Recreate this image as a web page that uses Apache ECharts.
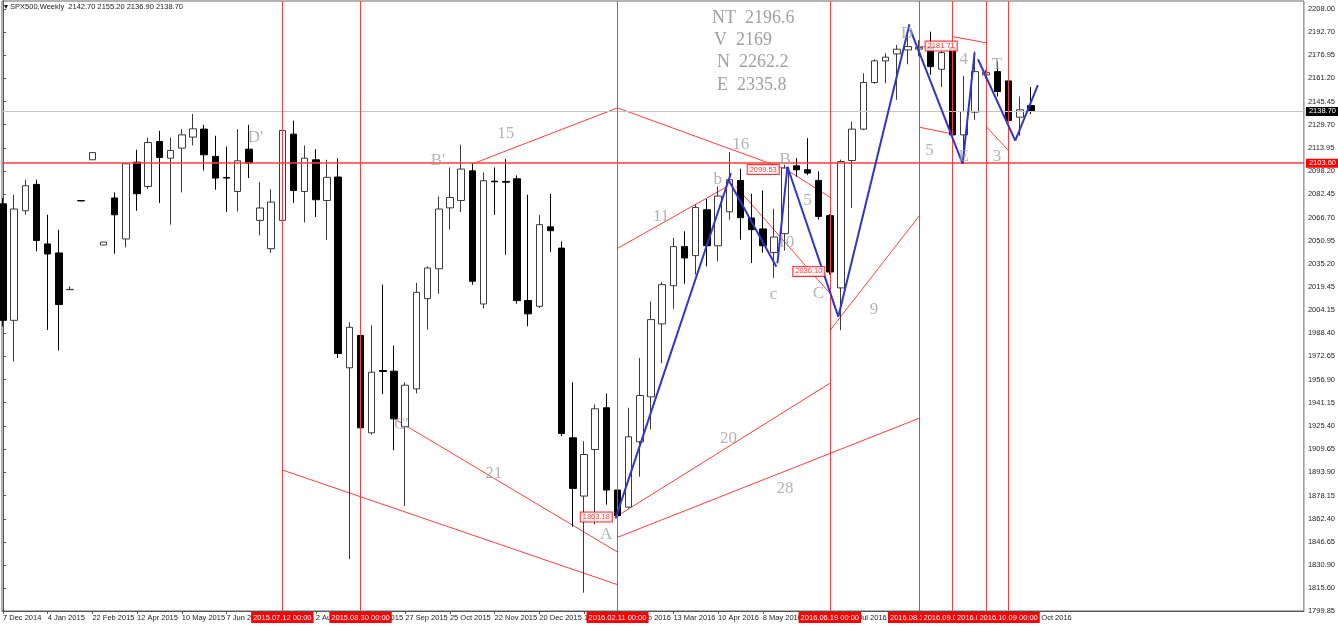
<!DOCTYPE html>
<html><head><meta charset="utf-8">
<script src="https://cdn.jsdelivr.net/npm/echarts@6/dist/echarts.min.js"></script>
<style>html,body{margin:0;padding:0;background:#fff}#c{width:1338px;height:627px}</style>
</head><body><div id="c"></div>
<script>
// ---- weekly bars (index 0 = 7 Dec 2014) ----
const opens  = [2076,1997,2071.3,2089.2,2048.8,2042.7,2017.8,2078.2,2105.9,2048.1,2080,2052.2,2104.3,2087.8,2118.3,2107,2113.8,2121.3,2126.7,2108.2,2093.9,2084.4,2113.1,2064.8,2045.6,2064.8,2123.3,2084.4,2105.9,2078.3,2094.2,1964.8,1986.7,1920.7,1963.0,1962.5,1924.8,1950.5,2011.7,2032,2073.3,2078.3,2098.4,2008.1,2091.4,2091.2,2093,2010.4,2006.5,2060.4,2046,1917.3,1877.8,1909.4,1937.7,1881.9,1870.3,1914.6,1945.1,1994.6,2020.5,2047,2040.9,2072,2047.6,2070.6,2091.9,2066.4,2059,2043,2055.8,2101.8,2099.1,2091.9,2068,2019,2105.4,2126.7,2158.3,2173,2177.7,2180.4,2181,2182.7,2167.3,2182,2122.8,2138.2,2163.5,2165.7,2159.4,2134.8,2142.7];
const highs  = [2080,2082.2,2092.4,2092.4,2068.6,2058.4,2020.1,2078.5,2110.8,2050.1,2083.8,2103.8,2112.7,2121,2125.5,2121,2126.7,2137,2129.6,2122.2,2114.9,2126.7,2129.6,2090.8,2086,2128,2132.5,2115.6,2113.1,2105.9,2107,1995.7,1990.5,1993.6,2021.2,1979.9,1955,2022.4,2033.6,2081,2100.7,2116.1,2103.7,2097.3,2100.7,2106.4,2095.3,2082.2,2068.6,2082.7,2050.5,1955,1915,1939.9,1947.4,1883,1937.7,1971.5,2009.9,2023,2052.9,2057.4,2075.4,2079.3,2087.8,2111.1,2099.8,2082.9,2085.1,2072.7,2102.5,2107,2120.6,2098,2069,2106,2131.8,2164.6,2174.1,2178.2,2183.8,2194,2187,2192.8,2182.7,2182.7,2162.8,2179.3,2167,2172.5,2160.5,2148.8,2155.2];
const lows   = [1993,1969,2068.6,2043.8,1990.5,1976.5,2017.6,2077.8,2105.9,2048.1,2042.2,2046.5,2071.3,2086,2076.6,2061.9,2083.8,2115.6,2098.7,2085.6,2070.5,2070.9,2093.5,2054.6,2042.7,2062,2076.6,2063.4,2067,2051.7,1971.5,1835,1921,1919.5,1947,1908.9,1871,1947.4,1990.7,2015,2058.5,2070.5,2021.2,2005,2068.6,2041.5,2008.3,1993,2005.4,2043.4,1918.4,1857,1812.3,1858.6,1872,1863.2,1869.4,1890.9,1923,1968,2004.8,2021.9,2028,2033.6,2037,2065.3,2051.7,2035.9,2043,2025.8,2044.3,2094.5,2095.5,2065.3,2028,1990.3,2073.2,2126,2157.4,2157.9,2146.6,2170.7,2176,2163.5,2155.2,2122,2104,2133,2161,2148.8,2131,2122.2,2136.9];
const closes = [1997,2072.5,2088.3,2051.2,2042,2007.7,2018.0,2078.0,2110.8,2050.1,2068.6,2103.2,2082.9,2117.6,2107.5,2112.2,2122.8,2126.9,2109.3,2093.5,2093.5,2105.2,2103.7,2073.2,2077.2,2125.8,2085.1,2107,2078.8,2094,1974.5,1992.3,1924.1,1961.8,1962.3,1930.2,1953,2016,2032.5,2072.5,2080.3,2099.6,2023.5,2091.7,2091,2090.7,2010.4,2001.4,2061.9,2057.8,1920.3,1883,1906,1937,1881.9,1864.5,1918,1946,1997.5,2021.2,2047,2039.3,2073.6,2047.6,2081.3,2092.4,2066.6,2058.5,2047.6,2053.5,2100.3,2099.1,2096.9,2067.5,2029.8,2104.7,2126.7,2158.3,2173,2175.5,2180.9,2182.7,2182.2,2169.1,2178.6,2122.8,2138.6,2165.7,2165,2152.2,2132.5,2139.8,2138.7];

// ---- axis labels ----
const xTickLabels = ['7 Dec 2014','4 Jan 2015','22 Feb 2015','12 Apr 2015','10 May 2015','7 Jun 2015','5 Jul 2015','2 Aug 2015','30 Aug 2015','27 Sep 2015','25 Oct 2015','22 Nov 2015','20 Dec 2015','17 Jan 2016','14 Feb 2016','13 Mar 2016','10 Apr 2016','8 May 2016','5 Jun 2016','3 Jul 2016','31 Jul 2016','28 Aug 2016','25 Sep 2016','23 Oct 2016'];
const yTickLabels = ['1799.85','1815.60','1830.90','1846.65','1862.40','1878.15','1893.90','1909.65','1925.40','1941.15','1956.90','1972.65','1988.40','2004.15','2019.45','2035.20','2050.95','2066.70','2082.45','2098.20','2113.95','2129.70','2145.45','2161.20','2176.95','2192.70','2208.00'];

// ---- objects ----
const vLineBars  = [25,32,55,74,82,85,88,90];
const vLineTexts = ['2015.07.12 00:00','2015.08.30 00:00','2016.02.11 00:00','2016.06.19 00:00','2016.08.14 00:00','2016.09.04 00:00','2016.09.25 00:00','2016.10.09 00:00'];
const levelRed = 2103.60;
const levelBid = 2138.70;

// red trend lines: [bar1, price1, bar2, price2]
const redSegments = [
  [25,1895.5,55,1817.7],
  [35.09,1929.9,55.03,1839.7],
  [41.94,2102.9,55,2141.1],
  [55,2141.1,70.06,2099.53],
  [70.06,2099.53,74,2080.5],
  [55.03,2045.9,64.94,2088.3],
  [65.6,2087.7,74,2015.4],
  [55,1864.4,74,1954.3],
  [55,1849.8,82,1930.6],
  [74,1990,82,2067.8],
  [82,2128,85,2123.4],
  [82,2182.5,83.2,2182.5],
  [85,2189.4,88,2185.3],
  [88,2128.4,90,2112.1]
];
// blue wave lines
const blueSegments = [
  [54.82,1862.7,65.15,2096.8],
  [64.94,2092.2,69.22,2033.4],
  [69.31,2035.7,70.21,2101.2],
  [70.21,2101.2,74.76,1999.5],
  [74.76,1999.5,81.13,2197.8],
  [81.22,2194,85.89,2103.1],
  [85.89,2103.1,86.96,2178.6],
  [87.26,2174.1,90.6,2118.9],
  [90.6,2118.9,92.62,2156.6]
];
// wave annotations
const annoBar   = [22.59,38.93,35.63,45,43.93,53.99,58.9,66.04,63.96,70,72,70.06,68.96,72.97,64.94,70,77.95,80.92,85.98,88.96,82.92,85.98,88.96];
const annoPrice = [2120.7,2105.1,1926,2123.4,1892.8,1851.4,2067.3,2116,2092.2,2105.8,2078.6,2049.7,2014.2,2015.4,1917,1883.1,2004,2191.7,2173.6,2170.2,2112.1,2107.8,2108];
const annoText  = ["D'","B'","C'",'15','21','A','11','16','b','B','5','10','c','C','20','28','9','D','4','T','5','E','3'];
// price boxes
const boxBar   = [53.1,68.04,72.12,83.97];
const boxPrice = [1863.6,2099.3,2030.2,2183.0];
const boxText  = ['1863.18','2099.53','2030.10','2181.71'];
// projection texts
const projTexts = ['NT  2196.6','V  2169','N  2262.2','E  2335.8'];

const RED = '#ff3c3c', BLUE = '#3434c4', GRAY = '#a0a0a0';
const SERIF = '"Liberation Serif","DejaVu Serif",serif';
const SANS = '"Liberation Sans",Arial,sans-serif';

const chart = echarts.init(document.getElementById('c'));
const candleData = opens.map((o,i)=>[i,o,closes[i],lows[i],highs[i]]);
const xTickPos = xTickLabels.map((_,k)=>k*4);
const yTickPos = yTickLabels.map(Number);

const series = [];
redSegments.forEach(s=>series.push({type:'line',data:[[s[0],s[1]],[s[2],s[3]]],symbol:'none',silent:true,z:3,animation:false,
  lineStyle:{color:RED,width:1}}));
series.push({type:'candlestick',data:candleData,encode:{x:0,y:[1,2,3,4]},barWidth:7,clip:false,z:4,animation:false,
  itemStyle:{color:'#ffffff',color0:'#000000',borderColor:'#3a3a3a',borderColor0:'#000000',borderWidth:1}});
blueSegments.forEach(s=>series.push({type:'line',data:[[s[0],s[1]],[s[2],s[3]]],symbol:'none',silent:true,z:6,animation:false,
  lineStyle:{color:BLUE,width:2}}));
series.push({type:'line',data:[],clip:false,z:5,animation:false,
  markLine:{symbol:['none','none'],silent:true,animation:false,
    data:[
      {yAxis:levelBid,lineStyle:{color:'#c4c4c4',width:1,type:'solid'},
        label:{show:true,position:'end',distance:2,formatter:levelBid.toFixed(2),color:'#fff',backgroundColor:'#000',padding:[1,3,0,3],fontSize:7.5,fontFamily:SANS}},
      {yAxis:levelRed,lineStyle:{color:RED,width:1.5,type:'solid'},
        label:{show:true,position:'end',distance:2,formatter:levelRed.toFixed(2),color:'#fff',backgroundColor:'#ff0000',padding:[1,3,0,3],fontSize:7.5,fontFamily:SANS}}
    ].concat(vLineBars.map((b,k)=>({xAxis:b,lineStyle:{color:RED,width:1,type:'solid'},
        label:{show:true,position:'start',distance:1,formatter:vLineTexts[k],color:'#fff',backgroundColor:'#ff0000',padding:[2,2,1,2],fontSize:7.5,fontFamily:SANS}})))
  }});
series.push({type:'scatter',data:annoBar.map((b,k)=>[b,annoPrice[k],annoText[k]]),symbolSize:1,itemStyle:{color:'rgba(0,0,0,0)'},silent:true,z:7,animation:false,
  label:{show:true,position:'inside',formatter:p=>p.value[2],color:GRAY,fontSize:17,fontFamily:SERIF}});
series.push({type:'scatter',data:boxBar.map((b,k)=>[b,boxPrice[k],boxText[k]]),symbolSize:1,itemStyle:{color:'rgba(0,0,0,0)'},silent:true,z:8,animation:false,
  label:{show:true,position:'inside',formatter:p=>p.value[2],color:'#ff0000',backgroundColor:'#fff',borderColor:'#ff0000',borderWidth:1,padding:[1,2,0,2],fontSize:7.5,fontFamily:SANS}});

const last = opens.length-1;
chart.setOption({
  animation:false,
  backgroundColor:'#ffffff',
  grid:{left:1,right:32,top:1,bottom:16,show:true,borderColor:'#666',borderWidth:1,backgroundColor:'#fff'},
  xAxis:{type:'value',min:-0.09,max:116.43,position:'bottom',
    axisLine:{show:true,lineStyle:{color:'#555'}},
    axisTick:{show:true,customValues:xTickPos,length:3,lineStyle:{color:'#555'}},
    axisLabel:{show:true,customValues:xTickPos,formatter:v=>xTickLabels[Math.round(v/4)]||'',align:'left',margin:3,fontSize:7.5,color:'#222',fontFamily:SANS},
    splitLine:{show:false}},
  yAxis:{type:'value',min:1799.85,max:2213.6,position:'right',
    axisLine:{show:true,lineStyle:{color:'#555'}},
    axisTick:{show:true,customValues:yTickPos,length:3,lineStyle:{color:'#555'}},
    axisLabel:{show:true,customValues:yTickPos,formatter:v=>yTickLabels[yTickPos.indexOf(v)]||v.toFixed(2),margin:4,fontSize:7.5,color:'#222',fontFamily:SANS},
    splitLine:{show:false}},
  graphic:[
    {type:'text',left:4,top:3,z:10,style:{text:'\u25BE SPX500,Weekly  '+[opens[last],highs[last],lows[last],closes[last]].map(v=>v.toFixed(2)).join(' '),fill:'#222',font:'7.5px '+SANS}},
    {type:'text',left:712,top:9,z:10,style:{text:projTexts[0],fill:GRAY,font:'18px '+SERIF}},
    {type:'text',left:714,top:31,z:10,style:{text:projTexts[1],fill:GRAY,font:'18px '+SERIF}},
    {type:'text',left:717,top:53,z:10,style:{text:projTexts[2],fill:GRAY,font:'18px '+SERIF}},
    {type:'text',left:717,top:76,z:10,style:{text:projTexts[3],fill:GRAY,font:'18px '+SERIF}}
  ],
  series:series
});
</script></body></html>
